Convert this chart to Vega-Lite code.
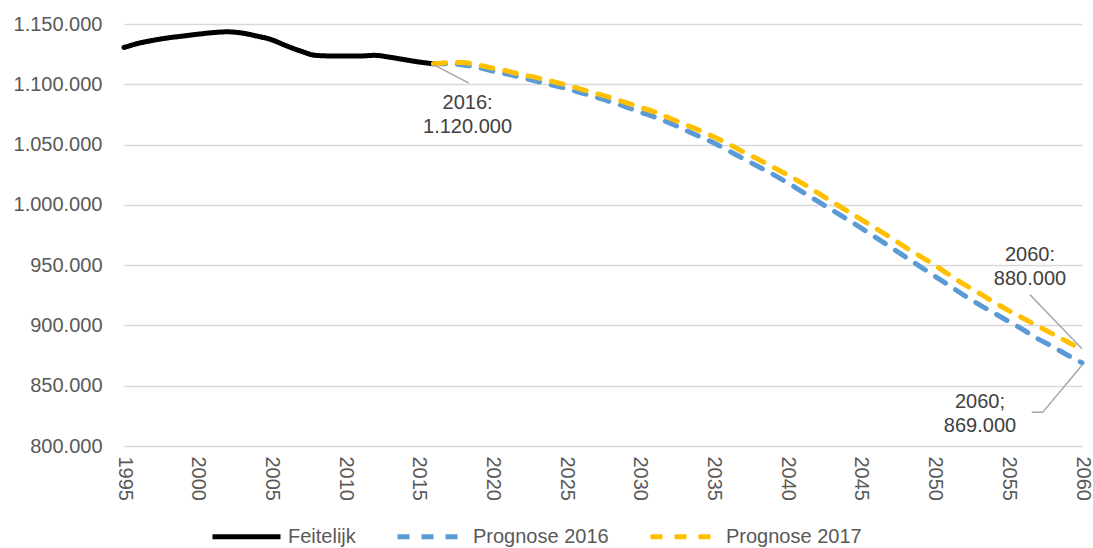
{
  "$schema": "https://vega.github.io/schema/vega-lite/v6.json",
  "width": 958,
  "height": 422,
  "autosize": {"type": "none"},
  "padding": {"left": 124, "top": 24, "right": 11, "bottom": 102},
  "background": "white",
  "config": {
    "view": {"stroke": null},
    "font": "Liberation Sans",
    "locale": {"number": {"decimal": ",", "thousands": ".", "grouping": [3], "currency": ["€", ""]}}
  },
  "datasets": {
    "series": [
      {"year": 1995, "value": 1130500, "series": "Feitelijk"},
      {"year": 1996, "value": 1134000, "series": "Feitelijk"},
      {"year": 1997, "value": 1136500, "series": "Feitelijk"},
      {"year": 1998, "value": 1138500, "series": "Feitelijk"},
      {"year": 1999, "value": 1140000, "series": "Feitelijk"},
      {"year": 2000, "value": 1141500, "series": "Feitelijk"},
      {"year": 2001, "value": 1142800, "series": "Feitelijk"},
      {"year": 2002, "value": 1143500, "series": "Feitelijk"},
      {"year": 2003, "value": 1142500, "series": "Feitelijk"},
      {"year": 2004, "value": 1140000, "series": "Feitelijk"},
      {"year": 2005, "value": 1137000, "series": "Feitelijk"},
      {"year": 2006, "value": 1132000, "series": "Feitelijk"},
      {"year": 2007, "value": 1127500, "series": "Feitelijk"},
      {"year": 2008, "value": 1124000, "series": "Feitelijk"},
      {"year": 2009, "value": 1123500, "series": "Feitelijk"},
      {"year": 2010, "value": 1123500, "series": "Feitelijk"},
      {"year": 2011, "value": 1123500, "series": "Feitelijk"},
      {"year": 2012, "value": 1124000, "series": "Feitelijk"},
      {"year": 2013, "value": 1122500, "series": "Feitelijk"},
      {"year": 2014, "value": 1120500, "series": "Feitelijk"},
      {"year": 2015, "value": 1118500, "series": "Feitelijk"},
      {"year": 2016, "value": 1117000, "series": "Feitelijk"},
      {"year": 2016, "value": 1117000, "series": "Prognose 2016"},
      {"year": 2017, "value": 1117000, "series": "Prognose 2016"},
      {"year": 2018, "value": 1116000, "series": "Prognose 2016"},
      {"year": 2019, "value": 1114000, "series": "Prognose 2016"},
      {"year": 2020, "value": 1111000, "series": "Prognose 2016"},
      {"year": 2021, "value": 1108500, "series": "Prognose 2016"},
      {"year": 2022, "value": 1105500, "series": "Prognose 2016"},
      {"year": 2023, "value": 1102500, "series": "Prognose 2016"},
      {"year": 2024, "value": 1099500, "series": "Prognose 2016"},
      {"year": 2025, "value": 1096500, "series": "Prognose 2016"},
      {"year": 2026, "value": 1093000, "series": "Prognose 2016"},
      {"year": 2027, "value": 1089500, "series": "Prognose 2016"},
      {"year": 2028, "value": 1085500, "series": "Prognose 2016"},
      {"year": 2029, "value": 1081500, "series": "Prognose 2016"},
      {"year": 2030, "value": 1077000, "series": "Prognose 2016"},
      {"year": 2031, "value": 1072800, "series": "Prognose 2016"},
      {"year": 2032, "value": 1068000, "series": "Prognose 2016"},
      {"year": 2033, "value": 1062500, "series": "Prognose 2016"},
      {"year": 2034, "value": 1057000, "series": "Prognose 2016"},
      {"year": 2035, "value": 1051500, "series": "Prognose 2016"},
      {"year": 2036, "value": 1045000, "series": "Prognose 2016"},
      {"year": 2037, "value": 1038500, "series": "Prognose 2016"},
      {"year": 2038, "value": 1032000, "series": "Prognose 2016"},
      {"year": 2039, "value": 1025500, "series": "Prognose 2016"},
      {"year": 2040, "value": 1018500, "series": "Prognose 2016"},
      {"year": 2041, "value": 1011000, "series": "Prognose 2016"},
      {"year": 2042, "value": 1003500, "series": "Prognose 2016"},
      {"year": 2043, "value": 996000, "series": "Prognose 2016"},
      {"year": 2044, "value": 988500, "series": "Prognose 2016"},
      {"year": 2045, "value": 981000, "series": "Prognose 2016"},
      {"year": 2046, "value": 973000, "series": "Prognose 2016"},
      {"year": 2047, "value": 965000, "series": "Prognose 2016"},
      {"year": 2048, "value": 957000, "series": "Prognose 2016"},
      {"year": 2049, "value": 949000, "series": "Prognose 2016"},
      {"year": 2050, "value": 941000, "series": "Prognose 2016"},
      {"year": 2051, "value": 933000, "series": "Prognose 2016"},
      {"year": 2052, "value": 925000, "series": "Prognose 2016"},
      {"year": 2053, "value": 917500, "series": "Prognose 2016"},
      {"year": 2054, "value": 910500, "series": "Prognose 2016"},
      {"year": 2055, "value": 903500, "series": "Prognose 2016"},
      {"year": 2056, "value": 896500, "series": "Prognose 2016"},
      {"year": 2057, "value": 889000, "series": "Prognose 2016"},
      {"year": 2058, "value": 882500, "series": "Prognose 2016"},
      {"year": 2059, "value": 875500, "series": "Prognose 2016"},
      {"year": 2060, "value": 869000, "series": "Prognose 2016"},
      {"year": 2016, "value": 1117000, "series": "Prognose 2017"},
      {"year": 2017, "value": 1118000, "series": "Prognose 2017"},
      {"year": 2018, "value": 1118000, "series": "Prognose 2017"},
      {"year": 2019, "value": 1116000, "series": "Prognose 2017"},
      {"year": 2020, "value": 1113500, "series": "Prognose 2017"},
      {"year": 2021, "value": 1111000, "series": "Prognose 2017"},
      {"year": 2022, "value": 1108000, "series": "Prognose 2017"},
      {"year": 2023, "value": 1105500, "series": "Prognose 2017"},
      {"year": 2024, "value": 1102500, "series": "Prognose 2017"},
      {"year": 2025, "value": 1099500, "series": "Prognose 2017"},
      {"year": 2026, "value": 1096000, "series": "Prognose 2017"},
      {"year": 2027, "value": 1092500, "series": "Prognose 2017"},
      {"year": 2028, "value": 1089000, "series": "Prognose 2017"},
      {"year": 2029, "value": 1085000, "series": "Prognose 2017"},
      {"year": 2030, "value": 1081000, "series": "Prognose 2017"},
      {"year": 2031, "value": 1077000, "series": "Prognose 2017"},
      {"year": 2032, "value": 1072000, "series": "Prognose 2017"},
      {"year": 2033, "value": 1067000, "series": "Prognose 2017"},
      {"year": 2034, "value": 1062000, "series": "Prognose 2017"},
      {"year": 2035, "value": 1056500, "series": "Prognose 2017"},
      {"year": 2036, "value": 1050500, "series": "Prognose 2017"},
      {"year": 2037, "value": 1044000, "series": "Prognose 2017"},
      {"year": 2038, "value": 1038000, "series": "Prognose 2017"},
      {"year": 2039, "value": 1031500, "series": "Prognose 2017"},
      {"year": 2040, "value": 1025000, "series": "Prognose 2017"},
      {"year": 2041, "value": 1018000, "series": "Prognose 2017"},
      {"year": 2042, "value": 1010500, "series": "Prognose 2017"},
      {"year": 2043, "value": 1003000, "series": "Prognose 2017"},
      {"year": 2044, "value": 995500, "series": "Prognose 2017"},
      {"year": 2045, "value": 988000, "series": "Prognose 2017"},
      {"year": 2046, "value": 980500, "series": "Prognose 2017"},
      {"year": 2047, "value": 973000, "series": "Prognose 2017"},
      {"year": 2048, "value": 965000, "series": "Prognose 2017"},
      {"year": 2049, "value": 957500, "series": "Prognose 2017"},
      {"year": 2050, "value": 950000, "series": "Prognose 2017"},
      {"year": 2051, "value": 942000, "series": "Prognose 2017"},
      {"year": 2052, "value": 934000, "series": "Prognose 2017"},
      {"year": 2053, "value": 927000, "series": "Prognose 2017"},
      {"year": 2054, "value": 919500, "series": "Prognose 2017"},
      {"year": 2055, "value": 912500, "series": "Prognose 2017"},
      {"year": 2056, "value": 906000, "series": "Prognose 2017"},
      {"year": 2057, "value": 899500, "series": "Prognose 2017"},
      {"year": 2058, "value": 893000, "series": "Prognose 2017"},
      {"year": 2059, "value": 886500, "series": "Prognose 2017"},
      {"year": 2060, "value": 880000, "series": "Prognose 2017"}
    ],
    "leaders": [
      {"seg": "a", "i": 0, "year": 2016.0, "value": 1116300},
      {"seg": "a", "i": 1, "year": 2018.4, "value": 1101000},
      {"seg": "b", "i": 0, "year": 2056.47, "value": 925500},
      {"seg": "b", "i": 1, "year": 2060, "value": 880700},
      {"seg": "c", "i": 0, "year": 2056.59, "value": 827900},
      {"seg": "c", "i": 1, "year": 2057.33, "value": 827900},
      {"seg": "c", "i": 2, "year": 2060, "value": 866900}
    ],
    "notes": [
      {"year": 2018.31, "value": 1084800, "label": "2016:\n1.120.000"},
      {"year": 2056.47, "value": 958600, "label": "2060:\n880.000"},
      {"year": 2053.08, "value": 836700, "label": "2060;\n869.000"}
    ]
  },
  "layer": [
    {
      "data": {"name": "series"},
      "mark": {"type": "line", "strokeWidth": 5, "strokeCap": "round", "strokeJoin": "round", "interpolate": "monotone"},
      "encoding": {
        "x": {
          "field": "year", "type": "quantitative",
          "scale": {"domain": [1995, 2060], "nice": false, "zero": false},
          "axis": {
            "title": null, "values": [1995, 2000, 2005, 2010, 2015, 2020, 2025, 2030, 2035, 2040, 2045, 2050, 2055, 2060],
            "format": "d", "labelAngle": 90, "labelFontSize": 20, "labelColor": "#595959",
            "labelPadding": 10, "ticks": false, "domain": false, "grid": false,
            "labelFlush": false, "labelOverlap": false
          }
        },
        "y": {
          "field": "value", "type": "quantitative",
          "scale": {"domain": [800000, 1150000], "nice": false, "zero": false},
          "axis": {
            "title": null, "values": [800000, 850000, 900000, 950000, 1000000, 1050000, 1100000, 1150000],
            "format": ",d", "labelFontSize": 20, "labelColor": "#595959",
            "labelPadding": 22, "ticks": false, "domain": false,
            "grid": true, "gridColor": "#d9d9d9", "gridWidth": 1.5
          }
        },
        "color": {
          "field": "series", "type": "nominal",
          "scale": {"domain": ["Feitelijk", "Prognose 2016", "Prognose 2017"], "range": ["#000000", "#5B9BD5", "#FFC000"]},
          "legend": {
            "title": null, "orient": "none", "direction": "horizontal",
            "legendX": 86, "legendY": 476, "padding": 0,
            "symbolType": "stroke", "symbolSize": 4624, "symbolStrokeWidth": 5,
            "labelFontSize": 20, "labelColor": "#595959", "labelOffset": 5,
            "columnPadding": 31
          }
        },
        "strokeDash": {
          "field": "series", "type": "nominal",
          "scale": {"domain": ["Feitelijk", "Prognose 2016", "Prognose 2017"], "range": [[1, 0], [12, 12], [12, 12]]},
          "legend": {
            "title": null, "orient": "none", "direction": "horizontal",
            "legendX": 86, "legendY": 476, "padding": 0,
            "symbolType": "stroke", "symbolSize": 4624, "symbolStrokeWidth": 5,
            "labelFontSize": 20, "labelColor": "#595959", "labelOffset": 5,
            "columnPadding": 31
          }
        }
      }
    },
    {
      "data": {"name": "leaders"},
      "mark": {"type": "line", "color": "#a6a6a6", "strokeWidth": 1.5},
      "encoding": {
        "x": {"field": "year", "type": "quantitative"},
        "y": {"field": "value", "type": "quantitative"},
        "detail": {"field": "seg", "type": "nominal"},
        "order": {"field": "i", "type": "quantitative"}
      }
    },
    {
      "data": {"name": "notes"},
      "mark": {"type": "text", "fontSize": 20, "color": "#404040", "lineBreak": "\n", "lineHeight": 24, "align": "center", "baseline": "middle"},
      "encoding": {
        "x": {"field": "year", "type": "quantitative"},
        "y": {"field": "value", "type": "quantitative"},
        "text": {"field": "label", "type": "nominal"}
      }
    }
  ]
}
